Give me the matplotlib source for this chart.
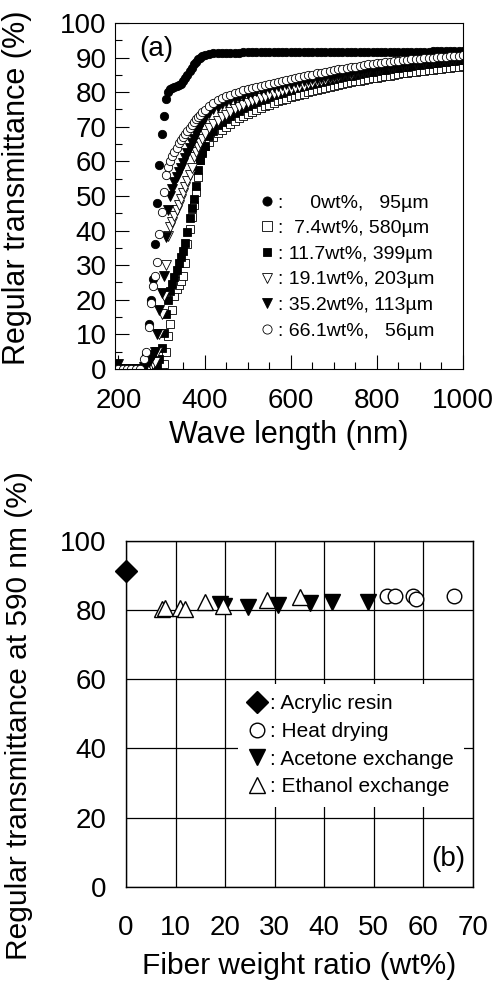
import matplotlib
matplotlib.use("Agg")
from matplotlib import pyplot as plt

plt.rcParams['font.family'] = ['Liberation Sans', 'DejaVu Sans']

# ---- (a) spectra: wavelength grid (nm) ----
wl = list(range(200, 261, 10)) + list(range(265, 401, 5)) + list(range(410, 1001, 10))

# 0wt%, 95um (filled circle)
t00 = ([0, 0, 0, 0, 0, 0, 0.5]
       + [4, 13, 20, 26, 36, 48, 59, 68, 73, 78, 80, 80.8, 81.2, 81.5, 81.8, 82,
          82.5, 83.2, 84, 85, 86, 87, 88, 88.8, 89.5, 90, 90.4, 90.7]
       + [91.0, 91.2, 91.3, 91.3, 91.4, 91.4, 91.4, 91.4, 91.5, 91.5,
          91.5, 91.5, 91.5, 91.5, 91.5, 91.5, 91.5, 91.5, 91.5, 91.5,
          91.5, 91.5, 91.5, 91.6, 91.6, 91.6, 91.6, 91.6, 91.6, 91.6,
          91.6, 91.6, 91.6, 91.6, 91.6, 91.6, 91.6, 91.6, 91.6, 91.6,
          91.7, 91.7, 91.7, 91.7, 91.7, 91.7, 91.7, 91.7, 91.7, 91.7,
          91.7, 91.7, 91.8, 91.8, 91.8, 91.8, 91.8, 91.9, 91.9, 91.9])

# 7.4wt%, 580um (open square)
t74 = ([0, 0, 0, 0, 0, 0, 0]
       + [0, 0, 0, 0, 0, 0, 0, 0, 1.5, 5, 9.5, 13, 17, 21, 23, 24.3,
          25.5, 27, 30.5, 36, 40.5, 44, 47.5, 51, 55.5, 60.5, 63, 64.5]
       + [65.7, 67, 68.1, 69.1, 70, 70.9, 71.7, 72.4, 73.1, 73.7,
          74.3, 74.9, 75.4, 75.9, 76.4, 76.9, 77.3, 77.7, 78.1, 78.5,
          78.9, 79.3, 79.6, 80, 80.3, 80.6, 80.9, 81.2, 81.5, 81.8,
          82.1, 82.3, 82.6, 82.8, 83.1, 83.3, 83.5, 83.8, 84, 84.2,
          84.4, 84.6, 84.8, 85, 85.2, 85.4, 85.5, 85.7, 85.9, 86.1,
          86.2, 86.4, 86.5, 86.7, 86.8, 87, 87.1, 87.3, 87.4, 87.5])

# 11.7wt%, 399um (filled square)
t117 = ([0, 0, 0, 0, 0, 0, 0]
        + [0, 0, 0, 0, 0.5, 1, 3, 6, 10.5, 16, 20, 22.5, 24.5, 26.5, 28.5, 30.5,
           32.3, 34, 36.5, 39.5, 43.5, 46.5, 49, 53, 57.5, 60.5, 62.5, 64.5]
        + [67.2, 68.8, 70.4, 71.4, 72.3, 73.1, 73.9, 74.6, 75.3, 75.9,
           76.5, 77.1, 77.6, 78.1, 78.6, 79.1, 79.5, 79.9, 80.3, 80.7,
           81.1, 81.4, 81.8, 82.1, 82.4, 82.7, 83, 83.3, 83.6, 83.8,
           84.1, 84.3, 84.6, 84.8, 85, 85.3, 85.5, 85.7, 85.9, 86.1,
           86.3, 86.5, 86.7, 86.9, 87.1, 87.2, 87.4, 87.6, 87.8, 87.9,
           88.1, 88.2, 88.4, 88.5, 88.7, 88.8, 88.9, 89.1, 89.2, 89.3])

# 19.1wt%, 203um (open down triangle)
t191 = ([0, 0, 0, 0, 0, 0, 0]
        + [0, 0.5, 1, 1.5, 2, 5, 10, 16, 21, 30, 38.5, 41, 42.6, 44.2, 45.8, 47.3,
           49, 50.8, 52.5, 54.2, 56, 58, 61.2, 62.8, 64.2, 65.4, 66.6, 67.8]
        + [69.6, 70.8, 71.8, 72.7, 73.5, 74.3, 75.0, 75.6, 76.2, 76.8,
           77.3, 77.8, 78.3, 78.7, 79.1, 79.5, 79.9, 80.3, 80.6, 80.9,
           81.2, 81.6, 81.9, 82.3, 82.6, 82.9, 83.2, 83.5, 83.8, 84.1,
           84.4, 84.6, 84.9, 85.1, 85.4, 85.6, 85.8, 86.1, 86.3, 86.5,
           86.7, 86.9, 87.1, 87.3, 87.5, 87.7, 87.8, 88.0, 88.2, 88.3,
           88.5, 88.6, 88.8, 88.9, 89.0, 89.1, 89.3, 89.4, 89.5, 89.6])

# 35.2wt%, 113um (filled down triangle)
t352 = ([1.5, 0, 0, 0, 0, 0, 0.5]
        + [1, 2, 3, 4, 5, 10, 17, 22, 27, 38, 46, 50, 52, 54, 55.6, 57,
           58.2, 59.5, 61, 62.4, 63.8, 65.2, 66.5, 67.8, 69, 70.2, 71.3, 72.4]
        + [74, 75, 75.8, 76.5, 77.1, 77.6, 78.1, 78.6, 79, 79.4,
           79.8, 80.2, 80.5, 80.8, 81.1, 81.4, 81.7, 82, 82.3, 82.5,
           82.8, 83.0, 83.3, 83.5, 83.7, 83.9, 84.1, 84.3, 84.5, 84.7,
           84.9, 85.1, 85.3, 85.5, 85.7, 85.9, 86.1, 86.3, 86.5, 86.7,
           86.9, 87.1, 87.3, 87.5, 87.6, 87.8, 88, 88.2, 88.3, 88.5,
           88.6, 88.8, 88.9, 89.1, 89.2, 89.3, 89.5, 89.6, 89.7, 89.8])

# 66.1wt%, 56um (open circle)
t661 = ([0, 0, 0, 0, 0, 0, 3]
        + [5, 12, 19, 24, 27, 31, 39, 45.5, 51, 56, 58.5, 60, 61.5, 62.7, 64, 65.2,
           66.2, 67.1, 68, 68.8, 69.7, 70.5, 71.4, 72.2, 72.8, 73.5, 74.2, 74.8]
        + [76, 77, 77.7, 78.3, 78.8, 79.3, 79.7, 80.1, 80.5, 80.9,
           81.2, 81.5, 81.8, 82.1, 82.4, 82.7, 83, 83.3, 83.6, 83.9,
           84, 84.3, 84.6, 84.9, 85.1, 85.4, 85.6, 85.9, 86.1, 86.3,
           86.6, 86.8, 87, 87.2, 87.4, 87.6, 87.8, 88, 88.1, 88.3,
           88.5, 88.6, 88.8, 88.9, 89.1, 89.2, 89.3, 89.5, 89.6, 89.7,
           89.8, 89.9, 90, 90.1, 90.2, 90.3, 90.4, 90.5, 90.5, 90.6])

labels_a = [":     0wt%,   95µm", ":  7.4wt%, 580µm", ": 11.7wt%, 399µm",
            ": 19.1wt%, 203µm", ": 35.2wt%, 113µm", ": 66.1wt%,   56µm"]

# ---- (b) transmittance at 590 nm vs fiber content ----
acryl_x = [0]
acryl_y = [91.3]
heat_x = [52.6, 54.2, 57.8, 58.5, 66.1]
heat_y = [84.0, 84.1, 84.1, 83.3, 84.1]
acet_x = [19.0, 19.8, 24.7, 30.7, 37.1, 41.5, 48.9]
acet_y = [81.6, 81.0, 80.9, 81.4, 81.9, 82.4, 82.4]
eth_x = [7.2, 7.8, 10.9, 11.9, 15.9, 19.6, 28.4, 35.1]
eth_y = [80.2, 80.6, 80.7, 80.4, 82.2, 81.0, 82.9, 83.8]

fig = plt.figure(figsize=(4.96, 9.81), dpi=100)

# ---------- panel (a) ----------
ax = fig.add_axes([0.2319, 0.6239, 0.7016, 0.3527])
styles = [
    dict(marker='o', mfc='black', mec='black', ms=6),
    dict(marker='s', mfc='white', mec='black', ms=6),
    dict(marker='s', mfc='black', mec='black', ms=5.5),
    dict(marker='v', mfc='white', mec='black', ms=6.5),
    dict(marker='v', mfc='black', mec='black', ms=6.5),
    dict(marker='o', mfc='white', mec='black', ms=6),
]
series = [t00, t74, t117, t191, t352, t661]
for ys, st, lab in zip(series, styles, labels_a):
    ax.plot(wl, ys, ls='none', mew=0.6, label=lab, **st)

ax.set_xlim(192, 1000)
ax.set_ylim(0, 100)
ax.set_xticks([200, 400, 600, 800, 1000])
ax.set_xticks(list(range(250, 1000, 50)), minor=True)
ax.set_yticks(list(range(0, 101, 10)))
ax.set_yticks(list(range(5, 100, 10)), minor=True)
ax.tick_params(which='both', direction='in', top=False, right=False, labelsize=20)
ax.tick_params(which='major', length=10, width=0.8)
ax.tick_params(which='minor', length=5, width=0.8)
ax.tick_params(axis='x', pad=14)
ax.tick_params(axis='y', pad=6)
for s in ax.spines.values():
    s.set_linewidth(0.8)
ax.set_xlabel("Wave length (nm)", fontsize=22, labelpad=4)
ax.set_ylabel("Regular transmittance (%)", fontsize=22)
ax.yaxis.set_label_coords(-0.238, 0.525)
ax.text(0.12, 0.925, "(a)", transform=ax.transAxes, fontsize=20, ha='center', va='center')
ax.legend(loc='upper left', bbox_to_anchor=(0.38, 0.545), frameon=False, fontsize=14,
          handlelength=0.6, handletextpad=0.3, labelspacing=0.41, borderpad=0.2,
          markerscale=1.1)

# ---------- panel (b) ----------
bx = fig.add_axes([0.254, 0.0961, 0.6996, 0.3527])
bx.plot(acryl_x, acryl_y, ls='none', marker='D', ms=11.5, mfc='black', mec='black',
        label=": Acrylic resin", clip_on=False, zorder=5)
bx.plot(heat_x, heat_y, ls='none', marker='o', ms=10.5, mfc='white', mec='black', mew=1,
        label=": Heat drying", zorder=4)
bx.plot(acet_x, acet_y, ls='none', marker='v', ms=11, mfc='black', mec='black',
        label=": Acetone exchange", zorder=4)
bx.plot(eth_x, eth_y, ls='none', marker='^', ms=11, mfc='white', mec='black', mew=1,
        label=": Ethanol exchange", zorder=4)
bx.set_xlim(0, 70)
bx.set_ylim(0, 100)
bx.set_xticks(list(range(0, 71, 10)))
bx.set_yticks(list(range(0, 101, 20)))
bx.grid(True, color='black', linewidth=0.9)
bx.set_axisbelow(True)
bx.tick_params(length=0, labelsize=20)
bx.tick_params(axis='x', pad=20)
bx.tick_params(axis='y', pad=14)
for s in bx.spines.values():
    s.set_linewidth(1.0)
bx.set_xlabel("Fiber weight ratio (wt%)", fontsize=21.5, labelpad=8)
bx.set_ylabel("Regular transmittance at 590 nm (%)", fontsize=21.5)
bx.yaxis.set_label_coords(-0.269, 0.496)
bx.text(0.93, 0.08, "(b)", transform=bx.transAxes, fontsize=20, ha='center', va='center')
bleg = bx.legend(loc='upper left', bbox_to_anchor=(0.294, 0.617), frameon=True, fontsize=15,
                 handlelength=0.8, handletextpad=0.2, labelspacing=0.42, borderpad=0.5,
                 fancybox=False, framealpha=1)
bleg.get_frame().set_facecolor('white')
bleg.get_frame().set_edgecolor('none')

fig.savefig("out.png", dpi=100)
